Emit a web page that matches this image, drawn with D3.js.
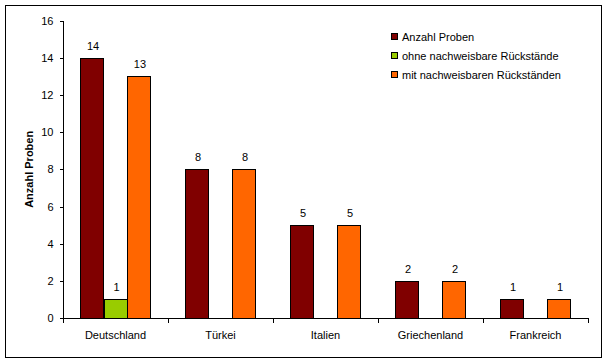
<!DOCTYPE html>
<html lang="de">
<head>
<meta charset="UTF-8">
<title>Anzahl Proben</title>
<script src="https://cdn.jsdelivr.net/npm/d3@7"></script>
<style>
  body { margin: 0; background: #fff; }
  text { font-family: Arial, "Liberation Sans", sans-serif; font-size: 11px; fill: #000; }
  .axis path, .axis line { stroke: #000; shape-rendering: crispEdges; }
</style>
</head>
<body>
<svg width="605" height="364"></svg>
<script>
// data
var laender = ["Deutschland", "Türkei", "Italien", "Griechenland", "Frankreich"];
var serien = ["Anzahl Proben", "ohne nachweisbare Rückstände", "mit nachweisbaren Rückständen"];
var anzahlProben = [14, 8, 5, 2, 1];
var ohneRueckstaende = [1, 0, 0, 0, 0];
var mitRueckstaende = [13, 8, 5, 2, 1];
var yTicks = [0, 2, 4, 6, 8, 10, 12, 14, 16];
var farben = ["#800000", "#99CC00", "#FF6600"];

var werte = [anzahlProben, ohneRueckstaende, mitRueckstaende];

var svg = d3.select("svg");

// outer frame
svg.append("rect")
  .attr("x", 5.5).attr("y", 5.5)
  .attr("width", 596).attr("height", 352)
  .attr("fill", "#fff").attr("stroke", "#000").attr("stroke-width", 1);

var mLeft = 63, mRight = 588, mTop = 20.7, mBottom = 318;

var x = d3.scaleBand().domain(laender).range([mLeft, mRight]).paddingInner(0).paddingOuter(0);
var xs = d3.scaleBand().domain(d3.range(serien.length))
  .range([0, x.bandwidth()]).paddingOuter(0.74).paddingInner(0);
var y = d3.scaleLinear().domain([0, 16]).range([mBottom, mTop]);

function zeile(d, i) {
  return werte.map(function(s, j) { return {s: j, v: s[i]}; })
    .filter(function(e) { return e.v > 0; });
}

// bars
var gruppen = svg.append("g").selectAll("g")
  .data(laender)
  .enter().append("g")
  .attr("transform", function(d) { return "translate(" + x(d) + ",0)"; });

gruppen.selectAll("rect")
  .data(zeile)
  .enter().append("rect")
  .attr("x", function(d) { return Math.round(xs(d.s)) + 0.5; })
  .attr("y", function(d) { return Math.round(y(d.v)) + 0.5; })
  .attr("width", function(d) { return Math.round(xs.bandwidth()); })
  .attr("height", function(d) { return Math.round(y(0)) - Math.round(y(d.v)); })
  .attr("fill", function(d) { return farben[d.s]; })
  .attr("stroke", "#000")
  .attr("stroke-width", 1);

gruppen.selectAll("text")
  .data(zeile)
  .enter().append("text")
  .attr("x", function(d) { return xs(d.s) + xs.bandwidth() / 2 + 1; })
  .attr("y", function(d) { return y(d.v) - 8; })
  .attr("text-anchor", "middle")
  .attr("fill", "#000")
  .text(function(d) { return d.v; });

// y axis
var yAxis = svg.append("g")
  .attr("class", "axis")
  .attr("transform", "translate(" + (mLeft + 0.5) + ",0)")
  .call(d3.axisLeft(y).tickValues(yTicks).tickSize(4).tickPadding(6).tickSizeOuter(0));
yAxis.select(".domain").attr("d", "M0," + y(16) + "V" + (y(0) + 0.5));
yAxis.selectAll("text").style("font-size", "11px").style("font-family", "Arial, 'Liberation Sans', sans-serif");

// x axis
var xAxis = svg.append("g")
  .attr("class", "axis")
  .attr("transform", "translate(0," + (Math.round(mBottom) + 0.5) + ")");
xAxis.append("line").attr("x1", mLeft).attr("x2", mRight + 0.5).attr("y1", 0).attr("y2", 0);
xAxis.selectAll(".tick")
  .data(laender.map(function(d) { return x(d); }).concat([mRight]))
  .enter().append("line")
  .attr("x1", function(d) { return Math.round(d) + 0.5; })
  .attr("x2", function(d) { return Math.round(d) + 0.5; })
  .attr("y1", 0).attr("y2", 4);
xAxis.selectAll("text")
  .data(laender)
  .enter().append("text")
  .attr("x", function(d) { return x(d) + x.bandwidth() / 2; })
  .attr("y", 20)
  .attr("text-anchor", "middle")
  .text(function(d) { return d; });

// y title
svg.append("text")
  .attr("transform", "translate(33," + ((mTop + mBottom) / 2) + ") rotate(-90)")
  .attr("text-anchor", "middle")
  .style("font-weight", "bold")
  .text("Anzahl Proben");

// legend
var legende = svg.append("g").selectAll("g")
  .data(serien)
  .enter().append("g")
  .attr("transform", function(d, i) { return "translate(391," + (37 + i * 19) + ")"; });
legende.append("rect")
  .attr("x", 0.5).attr("y", -3.5).attr("width", 6).attr("height", 6)
  .attr("fill", function(d, i) { return farben[i]; })
  .attr("stroke", "#000").attr("stroke-width", 1);
legende.append("text")
  .attr("x", 11).attr("y", 4)
  .text(function(d) { return d; });
</script>
</body>
</html>
